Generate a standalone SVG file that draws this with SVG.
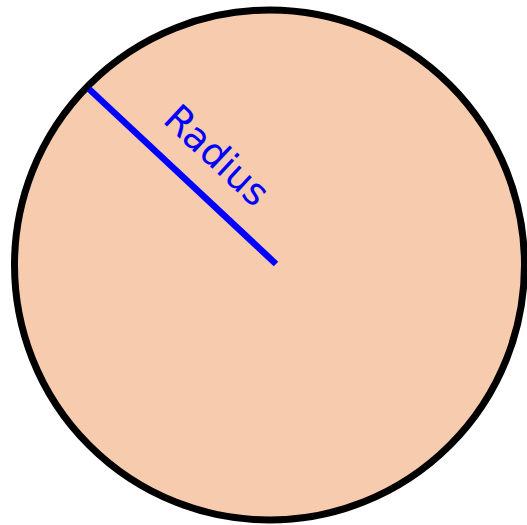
<svg xmlns="http://www.w3.org/2000/svg" width="527" height="525" viewBox="0 0 527 525">
<style>
.disk{fill:#f7cbad;stroke:#000;stroke-width:7}
.rad{stroke:#0000ff;stroke-width:6.5;fill:none}
.lbl{font-family:"DejaVu Sans",sans-serif;font-size:38px;fill:#0000ff}
</style>
<rect width="527" height="525" fill="#fff"/>
<g id="circle">
<circle class="disk" cx="269.5" cy="265" r="255"/>
</g>
<g id="connectors">
<line class="rad" x1="89" y1="89" x2="276" y2="264"/>
</g>
<g id="label">
<text class="lbl" x="208" y="165" text-anchor="middle" transform="rotate(43 208 165)">Radius</text>
</g>
</svg>
